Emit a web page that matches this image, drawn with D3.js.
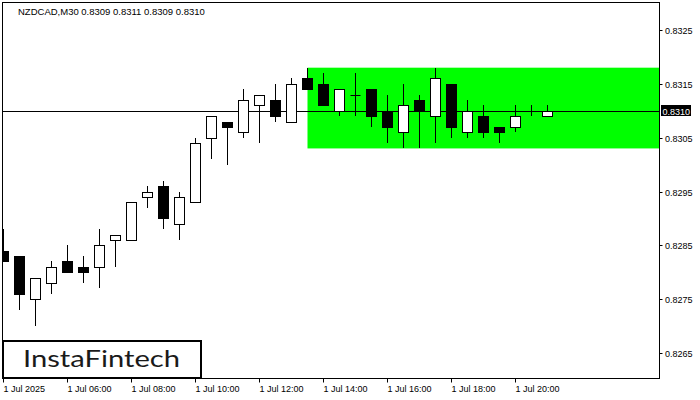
<!DOCTYPE html>
<html><head><meta charset="utf-8">
<script src="https://cdn.jsdelivr.net/npm/d3@7"></script>
<style>body{margin:0;background:#fff}svg{display:block}</style>
</head><body>
<svg id="c" width="700" height="400"></svg>
<script>
const symbolTitle = "NZDCAD,M30  0.8309 0.8311 0.8309 0.8310";
// 30-minute candles starting 1 Jul 2025 04:00
const opens  = [0.8284,0.8283,0.8275,0.8278,0.8282,0.8281,0.8281,0.8286,0.8286,0.8294,0.8296,0.8289,0.8293,0.8305,0.8308,0.8306,0.8311,0.8312,0.8308,0.8316,0.8315,0.8310,0.8313,0.8314,0.8310,0.8306,0.8312,0.8309,0.8315,0.8306,0.8309,0.8307,0.8307,0.8310,0.8309];
const highs  = [0.8288,0.8283,0.8279,0.8282,0.8285,0.8283,0.8288,0.8287,0.8293,0.8296,0.8297,0.8295,0.8305,0.8309,0.8308,0.8314,0.8313,0.8315,0.8316,0.8318,0.8317,0.8314,0.8317,0.8314,0.8313,0.8315,0.8313,0.8318,0.8315,0.8312,0.8311,0.8307,0.8311,0.8311,0.8311];
const lows   = [0.8282,0.8273,0.8270,0.8276,0.8280,0.8278,0.8277,0.8281,0.8286,0.8292,0.8288,0.8286,0.8293,0.8301,0.8300,0.8305,0.8304,0.8308,0.8308,0.8314,0.8311,0.8309,0.8309,0.8307,0.8304,0.8303,0.8303,0.8304,0.8305,0.8305,0.8305,0.8304,0.8306,0.8309,0.8309];
const closes = [0.8282,0.8276,0.8279,0.8281,0.8280,0.8280,0.8285,0.8287,0.8293,0.8295,0.8290,0.8294,0.8304,0.8309,0.8307,0.8312,0.8313,0.8309,0.8315,0.8314,0.8311,0.8314,0.8313,0.8309,0.8307,0.8311,0.8310,0.8316,0.8307,0.8310,0.8306,0.8306,0.8309,0.8310,0.8310];
const priceTicks = [0.8265,0.8275,0.8285,0.8295,0.8305,0.8315,0.8325];
const timeTickLabels = ["1 Jul 2025","1 Jul 06:00","1 Jul 08:00","1 Jul 10:00","1 Jul 12:00","1 Jul 14:00","1 Jul 16:00","1 Jul 18:00","1 Jul 20:00"];
const timeTickHours = [4,6,8,10,12,14,16,18,20];
const currentPrice = 0.8310;
const rectStartIndex = 19;
const rectHigh = 0.8318;
const rectLow = 0.8303;
const logoText = "InstaFintech";

const svg = d3.select("#c");
const L = 2.5, T = 2.5, R = 659.5, B = 378.5;
const t0 = new Date(2025, 6, 1, 4, 0);
const times = opens.map((_, i) => new Date(t0.getTime() + i * 30 * 60000));
const x = d3.scaleTime()
  .domain([t0, new Date(t0.getTime() + 41 * 30 * 60000)])
  .range([3.5, 659.5]);
const y = d3.scaleLinear().domain([0.8265, 0.8325]).range([353, 30]);

svg.append("defs").append("clipPath").attr("id","clip")
  .append("rect").attr("x", L).attr("y", T).attr("width", R - L).attr("height", B - T);
const plot = svg.append("g").attr("clip-path","url(#clip)");

// green rectangle pattern
plot.append("rect")
  .attr("x", x(times[rectStartIndex]))
  .attr("y", y(rectHigh))
  .attr("width", R - x(times[rectStartIndex]))
  .attr("height", y(rectLow) - y(rectHigh))
  .attr("fill", "#00ff00");

// current price line
const py = Math.round(y(currentPrice)) + 0.5;
plot.append("line").attr("x1", L).attr("x2", R).attr("y1", py).attr("y2", py)
  .attr("stroke", "#000").attr("stroke-width", 1);

// candles
const snap = v => Math.round(v) + 0.5;
const cg = plot.append("g");
opens.forEach((o, i) => {
  const cx = snap(x(times[i]) - 0.5);
  const c = closes[i], h = highs[i], l = lows[i];
  const bull = c >= o;
  cg.append("line").attr("x1", cx).attr("x2", cx)
    .attr("y1", Math.round(y(h))).attr("y2", Math.round(y(l)))
    .attr("stroke", "#000").attr("stroke-width", 1);
  const top = snap(y(Math.max(o, c))), bot = snap(y(Math.min(o, c)));
  if (bot - top < 1) {
    cg.append("line").attr("x1", cx - 5).attr("x2", cx + 5).attr("y1", top).attr("y2", top)
      .attr("stroke", "#000").attr("stroke-width", 1);
  } else {
    cg.append("rect").attr("x", cx - 5).attr("y", top).attr("width", 10).attr("height", bot - top)
      .attr("fill", bull ? "#fff" : "#000").attr("stroke", "#000").attr("stroke-width", 1);
  }
});

// frame
svg.append("rect").attr("x", L).attr("y", T).attr("width", R - L).attr("height", B - T)
  .attr("fill", "none").attr("stroke", "#000").attr("stroke-width", 1);

// right axis
const ya = svg.append("g");
priceTicks.forEach(v => {
  const ty = Math.round(y(v)) + 0.5;
  ya.append("line").attr("x1", R).attr("x2", R + 3).attr("y1", ty).attr("y2", ty).attr("stroke", "#000");
  ya.append("text").attr("x", 665).attr("y", ty + 3.5).text(d3.format(".4f")(v))
    .attr("font-family", "Liberation Sans, Arial, sans-serif").attr("font-size", "9px").attr("fill", "#000");
});
// current price label
ya.append("rect").attr("x", 661).attr("y", py - 6.5).attr("width", 30).attr("height", 11).attr("fill", "#000");
ya.append("text").attr("x", 662.5).attr("y", py + 3).text(d3.format(".4f")(currentPrice))
  .attr("font-family", "Liberation Sans, Arial, sans-serif").attr("font-size", "9px").attr("fill", "#fff");

// bottom axis
const xa = svg.append("g");
timeTickHours.forEach((hh, k) => {
  const tx = snap(x(new Date(2025, 6, 1, hh, 0)) - 0.5);
  xa.append("line").attr("x1", tx).attr("x2", tx).attr("y1", B).attr("y2", B + 4).attr("stroke", "#000");
  xa.append("text").attr("x", tx).attr("y", 392).text(timeTickLabels[k])
    .attr("font-family", "Liberation Sans, Arial, sans-serif").attr("font-size", "9px").attr("fill", "#000");
});

// title
svg.append("text").attr("x", 18).attr("y", 15).text(symbolTitle)
  .attr("font-family", "Liberation Sans, Arial, sans-serif").attr("font-size", "9.5px").attr("fill", "#000");

// logo
svg.append("rect").attr("x", 3).attr("y", 341).attr("width", 198).attr("height", 37)
  .attr("fill", "#fff").attr("stroke", "#000").attr("stroke-width", 2);
svg.append("text").attr("x", 23).attr("y", 367).text(logoText)
  .attr("font-family", "Lato, Noto Sans, sans-serif").attr("font-size", "23px").attr("font-weight", 400)
  .attr("fill", "#1a1a1a").attr("textLength", 157).attr("lengthAdjust", "spacingAndGlyphs");
</script>
</body></html>
